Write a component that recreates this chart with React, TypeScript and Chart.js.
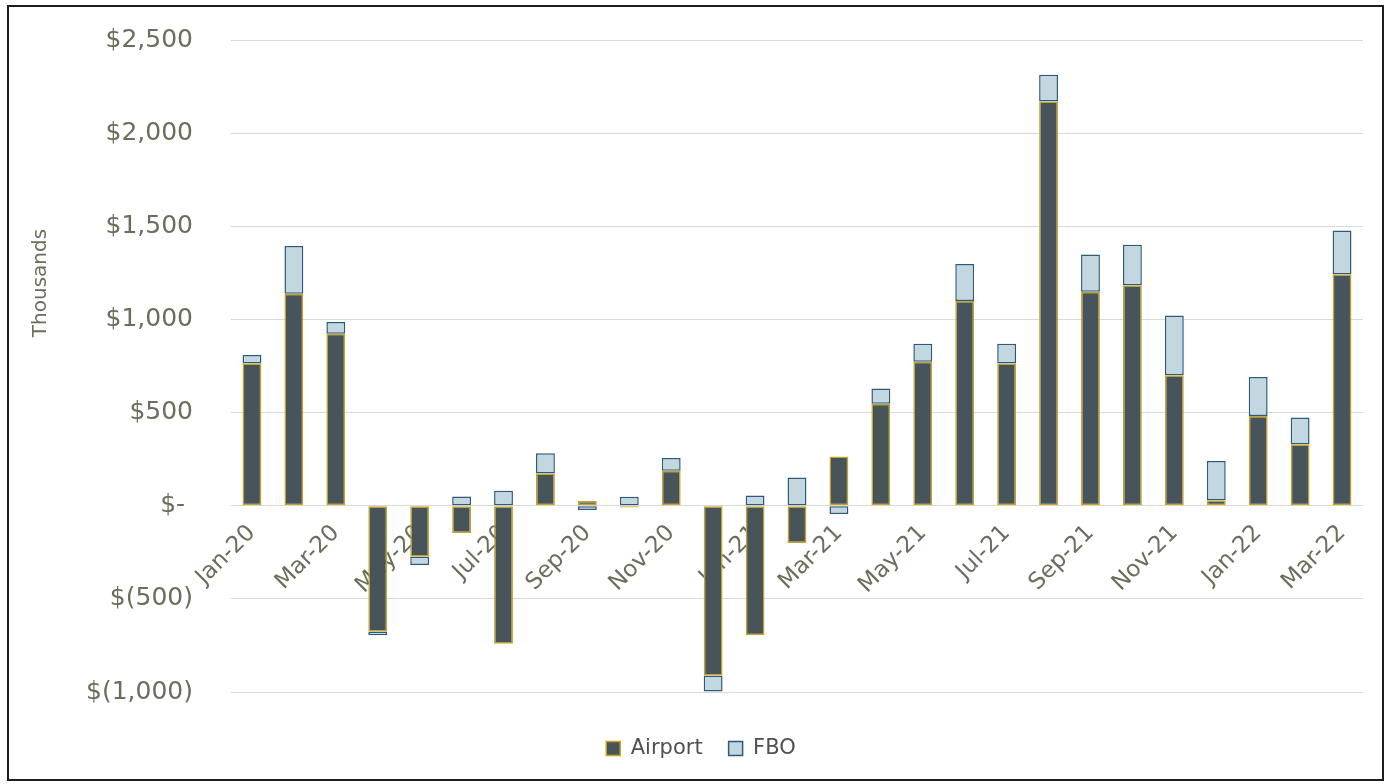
import React, { useEffect, useRef } from 'react';
import { Chart, registerables } from 'chart.js';

Chart.register(...registerables);

const months = [
  'Jan-20', 'Feb-20', 'Mar-20', 'Apr-20', 'May-20', 'Jun-20', 'Jul-20', 'Aug-20', 'Sep-20',
  'Oct-20', 'Nov-20', 'Dec-20', 'Jan-21', 'Feb-21', 'Mar-21', 'Apr-21', 'May-21', 'Jun-21',
  'Jul-21', 'Aug-21', 'Sep-21', 'Oct-21', 'Nov-21', 'Dec-21', 'Jan-22', 'Feb-22', 'Mar-22',
];

const airportValues = [
  763, 1138, 923, -675, -273, -146, -741, 173, 25,
  -10, 188, -911, -695, -200, 264, 548, 773, 1099,
  763, 2170, 1149, 1183, 700, 29, 481, 328, 1242,
];

const fboValues = [
  46, 256, 63, -21, -45, 50, 80, 109, -23,
  48, 68, -86, 55, 152, -45, 81, 97, 198,
  107, 143, 200, 218, 321, 211, 210, 145, 235,
];

const yMin = -1000;
const yMax = 2500;
const yStep = 500;
const yAxisTitle = 'Thousands';

const FONT = '"DejaVu Sans", sans-serif';
const TEXT = '#6c6e5c';

function formatMoney(v: number): string {
  if (v === 0) return '$- ';
  const s = Math.abs(v).toLocaleString('en-US');
  return v < 0 ? `$(${s})` : `$${s}`;
}

const thousandsPlugin = {
  id: 'thousandsTitle',
  afterDraw(chart: any) {
    const ctx = chart.ctx;
    ctx.save();
    ctx.translate(32, 276);
    ctx.rotate(-Math.PI / 2);
    ctx.font = `20px ${FONT}`;
    ctx.fillStyle = TEXT;
    ctx.textAlign = 'center';
    ctx.textBaseline = 'middle';
    ctx.fillText(yAxisTitle, 0, 0);
    ctx.restore();
  },
};

export default function App() {
  const canvasRef = useRef<HTMLCanvasElement | null>(null);

  useEffect(() => {
    if (!canvasRef.current) return;
    const chart = new Chart(canvasRef.current, {
      type: 'bar',
      data: {
        labels: months,
        datasets: [
          {
            label: 'Airport',
            data: airportValues,
            backgroundColor: '#47555b',
            borderColor: '#c9a31e',
            borderWidth: 1.5,
            borderSkipped: false,
            categoryPercentage: 1,
            barPercentage: 0.45,
          },
          {
            label: 'FBO',
            data: fboValues,
            backgroundColor: '#c3d7e1',
            borderColor: '#2c5a78',
            borderWidth: 1.5,
            borderSkipped: false,
            categoryPercentage: 1,
            barPercentage: 0.45,
          },
        ],
      },
      options: {
        animation: false,
        responsive: true,
        maintainAspectRatio: false,
        layout: { padding: { top: 33, right: 19, bottom: 10, left: 30 } },
        plugins: {
          tooltip: { enabled: false },
          legend: {
            position: 'bottom',
            title: { display: true, text: ' ', font: { size: 10 }, padding: 4 },
            labels: {
              boxWidth: 14,
              boxHeight: 14,
              padding: 26,
              color: '#505050',
              font: { family: FONT, size: 21 },
            },
          },
        },
        scales: {
          x: {
            stacked: true,
            position: { y: 0 } as any,
            grid: { display: false },
            border: { display: false },
            ticks: {
              autoSkip: false,
              minRotation: 45,
              maxRotation: 45,
              padding: 6,
              color: TEXT,
              font: { family: FONT, size: 23 },
              callback: (_v: any, i: number) => (i % 2 === 0 ? months[i] : ''),
            },
          },
          y: {
            stacked: true,
            min: yMin,
            max: yMax,
            afterFit: (scale: any) => {
              scale.width = 192;
            },
            grid: {
              color: '#d9d9d9',
              lineWidth: 1,
              drawTicks: true,
              tickLength: 35,
              tickColor: 'rgba(0,0,0,0)',
            },
            border: { display: false },
            ticks: {
              stepSize: yStep,
              padding: 3,
              color: TEXT,
              font: { family: FONT, size: 25 },
              callback: (v: any) => formatMoney(Number(v)),
            },
          },
        },
      },
      plugins: [thousandsPlugin],
    });
    return () => chart.destroy();
  }, []);

  return (
    <div
      style={{
        position: 'absolute',
        left: 7,
        top: 5,
        width: 1377,
        height: 776,
        boxSizing: 'border-box',
        border: '2px solid #1e1e1e',
        background: '#ffffff',
      }}
    >
      <div style={{ position: 'relative', width: '100%', height: '100%' }}>
        <canvas ref={canvasRef} />
      </div>
    </div>
  );
}
